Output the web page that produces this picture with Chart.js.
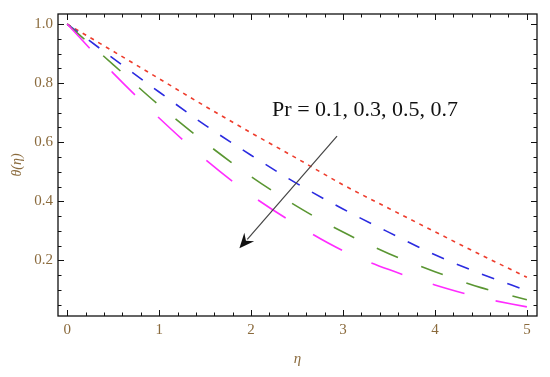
<!DOCTYPE html>
<html>
<head>
<meta charset="utf-8">
<script src="https://cdn.jsdelivr.net/npm/chart.js@4/dist/chart.umd.min.js"></script>
<style>
  html, body { margin: 0; padding: 0; background: #fff; }
  #wrap { width: 550px; height: 377px; }
</style>
</head>
<body>
<div id="wrap"><canvas id="thetaChart"></canvas></div>
<script>
// ---------- Data ----------

const eta = [0, 0.5, 1, 1.5, 2, 2.5, 3, 3.5, 4, 4.5, 5];

const thetaPr01 = [1, 0.908, 0.815, 0.722, 0.632, 0.545, 0.456, 0.376, 0.297, 0.219, 0.143];
const thetaPr03 = [1, 0.884, 0.770, 0.658, 0.556, 0.460, 0.374, 0.295, 0.219, 0.155, 0.098];
const thetaPr05 = [1, 0.863, 0.725, 0.599, 0.484, 0.383, 0.296, 0.223, 0.162, 0.108, 0.067];
const thetaPr07 = [1, 0.834, 0.682, 0.542, 0.421, 0.320, 0.233, 0.169, 0.117, 0.074, 0.043];

const xMajorTicks = [0, 1, 2, 3, 4, 5];
const xMinorTicks = [0.2, 0.4, 0.6, 0.8, 1.2, 1.4, 1.6, 1.8, 2.2, 2.4, 2.6, 2.8,
                     3.2, 3.4, 3.6, 3.8, 4.2, 4.4, 4.6, 4.8];
const yMajorTicks = [0.2, 0.4, 0.6, 0.8, 1.0];
const yMinorTicks = [0.05, 0.1, 0.15, 0.25, 0.3, 0.35, 0.45, 0.5, 0.55,
                     0.65, 0.7, 0.75, 0.85, 0.9, 0.95];

// annotation: arrow from -> to, label position (data coords)
const arrowFrom = { x: 2.935, y: 0.621 };
const arrowTo = { x: 1.873, y: 0.241 };
const noteText = 'Pr = 0.1, 0.3, 0.5, 0.7';
const notePos = { x: 3.24, y: 0.71 };

// ---------- Helpers ----------

function toPoints(ys) {
  return ys.map((y, i) => ({ x: eta[i], y }));
}

function series(label, ys, color, dash, order) {
  return {
    label,
    data: toPoints(ys),
    borderColor: color,
    borderWidth: 1.6,
    borderDash: dash,
    pointRadius: 0,
    fill: false,
    order,
    cubicInterpolationMode: 'monotone'
  };
}

// frame, inward ticks on all four sides, arrow and note
const framePlugin = {
  id: 'frame',
  afterDraw(chart) {
    const { ctx, chartArea: a, scales } = chart;
    const xs = scales.x, ys = scales.y;
    ctx.save();
    ctx.strokeStyle = '#111';
    ctx.lineWidth = 1.3;
    ctx.strokeRect(a.left, a.top, a.right - a.left, a.bottom - a.top);

    ctx.lineWidth = 1;
    const tickX = (v, len) => {
      const px = Math.round(xs.getPixelForValue(v)) + 0.5;
      ctx.beginPath();
      ctx.moveTo(px, a.bottom); ctx.lineTo(px, a.bottom - len);
      ctx.moveTo(px, a.top); ctx.lineTo(px, a.top + len);
      ctx.stroke();
    };
    const tickY = (v, len) => {
      const py = Math.round(ys.getPixelForValue(v)) + 0.5;
      ctx.beginPath();
      ctx.moveTo(a.left, py); ctx.lineTo(a.left + len, py);
      ctx.moveTo(a.right, py); ctx.lineTo(a.right - len, py);
      ctx.stroke();
    };
    xMajorTicks.forEach((v) => tickX(v, 6));
    xMinorTicks.forEach((v) => tickX(v, 3.5));
    yMajorTicks.forEach((v) => tickY(v, 6));
    yMinorTicks.forEach((v) => tickY(v, 3.5));

    // arrow
    const x1 = xs.getPixelForValue(arrowFrom.x), y1 = ys.getPixelForValue(arrowFrom.y);
    const x2 = xs.getPixelForValue(arrowTo.x), y2 = ys.getPixelForValue(arrowTo.y);
    const ang = Math.atan2(y2 - y1, x2 - x1);
    const headLen = 15, headW = 6.5;
    const bx = x2 - headLen * Math.cos(ang), by = y2 - headLen * Math.sin(ang);
    ctx.strokeStyle = '#444';
    ctx.lineWidth = 1.2;
    ctx.beginPath();
    ctx.moveTo(x1, y1); ctx.lineTo(bx + 3 * Math.cos(ang), by + 3 * Math.sin(ang));
    ctx.stroke();
    ctx.fillStyle = '#111';
    ctx.beginPath();
    ctx.moveTo(x2, y2);
    ctx.lineTo(bx + headW * Math.sin(ang), by - headW * Math.cos(ang));
    ctx.lineTo(x2 - 10 * Math.cos(ang), y2 - 10 * Math.sin(ang));
    ctx.lineTo(bx - headW * Math.sin(ang), by + headW * Math.cos(ang));
    ctx.closePath();
    ctx.fill();

    // note
    ctx.fillStyle = '#111';
    ctx.font = '22px "Liberation Serif", "Times New Roman", serif';
    ctx.textAlign = 'center';
    ctx.textBaseline = 'middle';
    ctx.fillText(noteText, xs.getPixelForValue(notePos.x), ys.getPixelForValue(notePos.y));
    ctx.restore();
  }
};

// ---------- Chart ----------

const tickFont = { family: '"Liberation Serif", "Times New Roman", serif', size: 15 };
const tickColor = '#8a6a3c';

const ctx = document.getElementById('thetaChart').getContext('2d');
new Chart(ctx, {
  type: 'line',
  data: {
    datasets: [
      series('Pr = 0.1', thetaPr01, '#ee3d2d', [4, 5], 3),
      series('Pr = 0.3', thetaPr03, '#2b2be0', [13, 14], 2),
      series('Pr = 0.5', thetaPr05, '#5a9632', [23, 25], 1),
      series('Pr = 0.7', thetaPr07, '#ff2cff', [33, 32], 0)
    ]
  },
  options: {
    responsive: true,
    maintainAspectRatio: false,
    animation: false,
    layout: { padding: { top: 7, right: 13, left: 0, bottom: 0 } },
    plugins: {
      legend: { display: false },
      tooltip: { enabled: false }
    },
    scales: {
      x: {
        type: 'linear',
        min: -0.1,
        max: 5.11,
        afterFit: (s) => { s.height = 61; },
        afterBuildTicks: (s) => { s.ticks = xMajorTicks.map((v) => ({ value: v })); },
        grid: { display: false, drawTicks: false },
        border: { display: false },
        ticks: {
          padding: 5,
          color: tickColor,
          font: tickFont,
          maxRotation: 0,
          callback: (v) => String(v)
        },
        title: {
          display: true,
          text: 'η',
          color: tickColor,
          font: { family: tickFont.family, size: 15, style: 'italic' },
          padding: { top: 0, bottom: 9 }
        }
      },
      y: {
        type: 'linear',
        min: 0.012,
        max: 1.034,
        afterFit: (s) => { s.width = 58; },
        afterBuildTicks: (s) => { s.ticks = yMajorTicks.map((v) => ({ value: v })); },
        grid: { display: false, drawTicks: false },
        border: { display: false },
        ticks: {
          padding: 5,
          color: tickColor,
          font: tickFont,
          callback: (v) => v.toFixed(1)
        },
        title: {
          display: true,
          text: 'θ(η)',
          color: tickColor,
          font: { family: tickFont.family, size: 14, style: 'italic' },
          padding: { top: 9, bottom: 0 }
        }
      }
    }
  },
  plugins: [framePlugin]
});
</script>
</body>
</html>
